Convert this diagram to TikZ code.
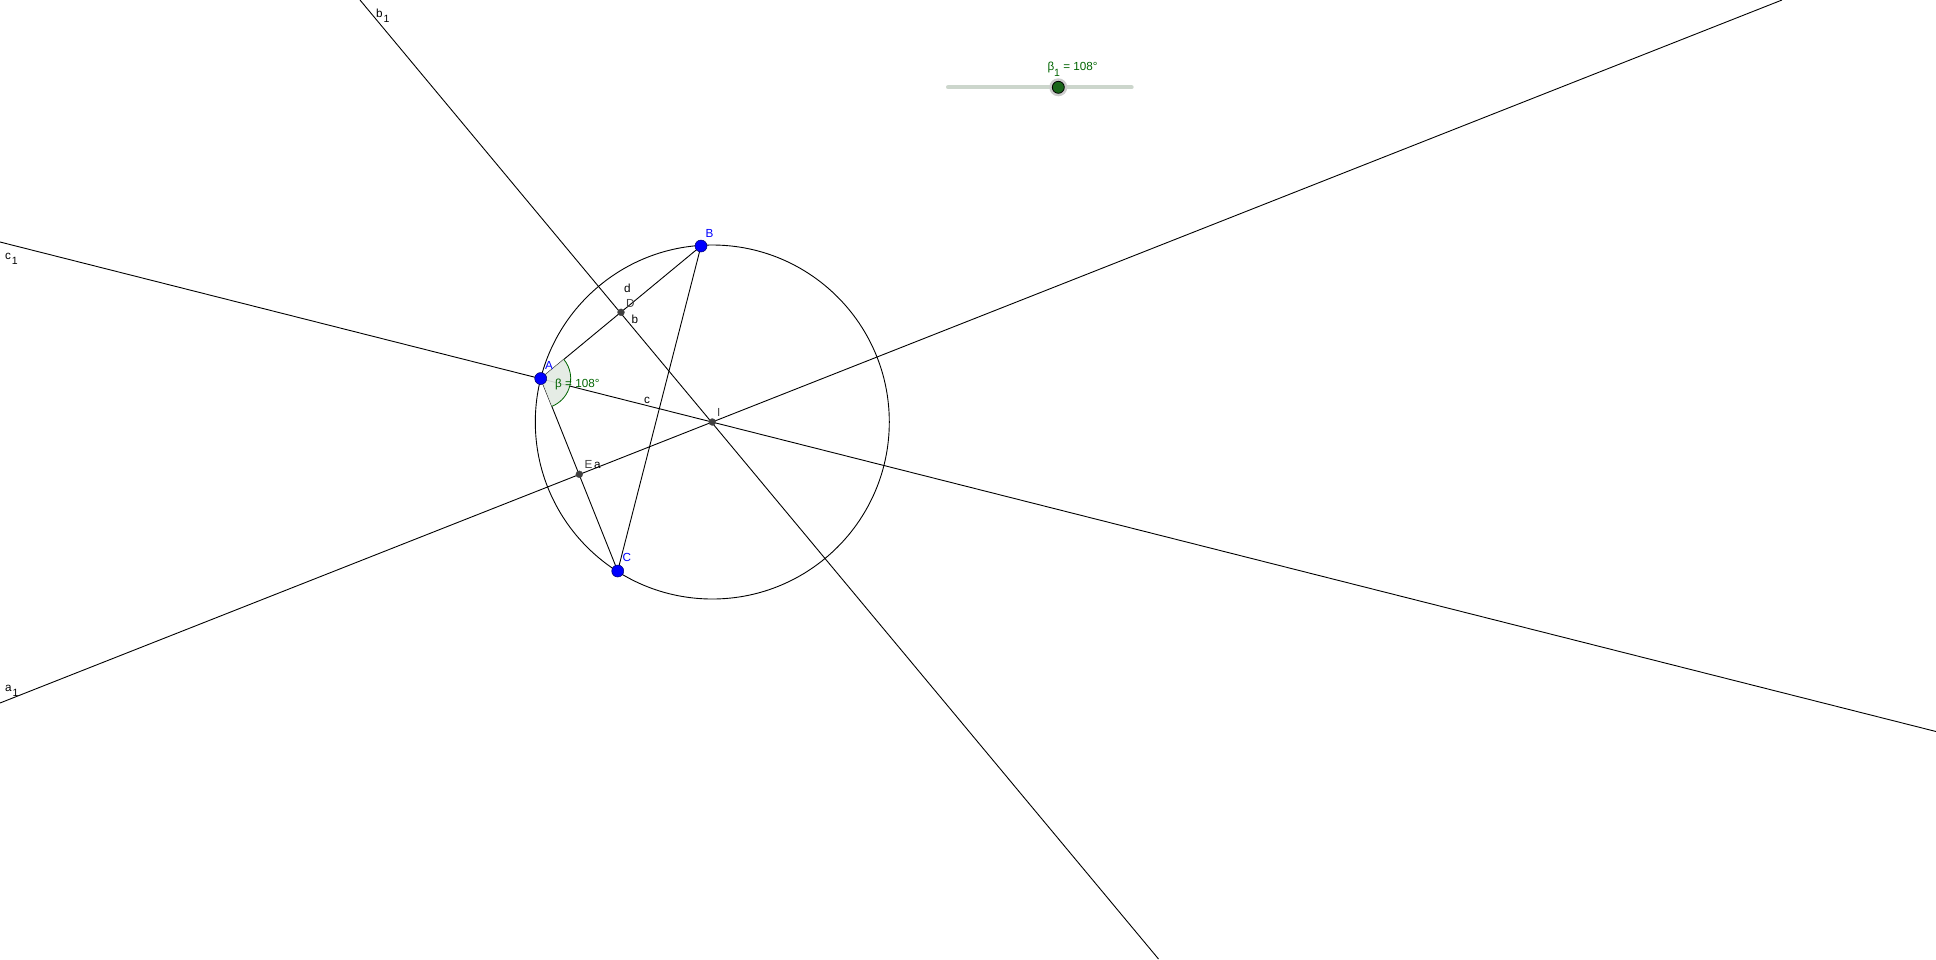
\documentclass[tikz,border=0pt]{standalone}
\usepackage{fontspec}
\usetikzlibrary{calc}
\setmainfont{Liberation Sans}
\definecolor{ptblue}{RGB}{0,0,255}
\definecolor{ggreen}{RGB}{0,100,0}
\definecolor{anglefill}{RGB}{226,234,226}
\definecolor{trackcol}{RGB}{204,214,204}
\definecolor{knobcol}{RGB}{26,102,26}
\definecolor{dotcol}{RGB}{64,64,64}
\begin{document}
\begin{tikzpicture}[x=1pt,y=-1pt,
  geoline/.style={line width=0.9pt, black},
  freept/.style={circle, fill=ptblue, draw=blue!40!black, line width=0.5pt, minimum size=12pt, inner sep=0pt},
  deppt/.style={circle, fill=dotcol, draw=black!70, line width=0.3pt, minimum size=7pt, inner sep=0pt},
  lbl/.style={anchor=base west, inner sep=0pt, font=\fontsize{11.7}{14}\selectfont},
  bluelbl/.style={lbl, text=ptblue},
  greenlbl/.style={lbl, text=ggreen}]
\useasboundingbox (0,0) rectangle (1936,959);
\clip (0,0) rectangle (1936,959);
% points
\coordinate (Ac) at (540.7,378.5);
\coordinate (Bc) at (701,246);
\coordinate (Cc) at (617.7,571);
\coordinate (Dc) at (621,312.3);
\coordinate (Ec) at (579.3,474.3);
\coordinate (Ic) at (712.3,422);
% line ends
\coordinate (b1s) at (360,0);
\coordinate (b1e) at (1158.5,959);
\coordinate (c1s) at (0,242);
\coordinate (c1e) at (1936,731.5);
\coordinate (a1s) at (0,703);
\coordinate (a1e) at (1782,0);
% circle
\draw[geoline] (Ic) circle[radius=177];
% lines
\draw[geoline] (b1s) -- (b1e);
\draw[geoline] (c1s) -- (c1e);
\draw[geoline] (a1s) -- (a1e);
% triangle sides
\draw[geoline] (Ac) -- (Bc);
\draw[geoline] (Bc) -- (Cc);
\draw[geoline] (Cc) -- (Ac);
% angle
\coordinate (angS) at ($(Ac)+(-39.6:30)$);
\fill[anglefill, fill opacity=0.9] (Ac) -- (angS) arc[start angle=-39.6, end angle=68.2, radius=30] -- cycle;
\draw[ggreen, line width=0.8pt] (angS) arc[start angle=-39.6, end angle=68.2, radius=30];
% point nodes
\node[freept] (A) at (Ac) {};
\node[freept] (B) at (Bc) {};
\node[freept] (C) at (Cc) {};
\node[deppt] (D) at (Dc) {};
\node[deppt] (E) at (Ec) {};
\node[deppt] (I) at (Ic) {};
% labels
\node[bluelbl] (lA) at (545,369) {A};
\node[bluelbl] (lB) at (705.5,237.3) {B};
\node[bluelbl] (lC) at (622.5,561) {C};
\node[lbl, text=black!75] (lD) at (626,307.3) {D};
\node[lbl] (ld) at (624,292) {d};
\node[lbl] (lb) at (631.5,323.7) {b};
\node[lbl] (lc) at (644,403.7) {c};
\node[lbl, text=black!75] (lI) at (717,416) {I};
\node[lbl, text=black!75] (lE) at (584.3,468.3) {E};
\node[lbl] (la) at (594,468.3) {a};
\node[greenlbl] (lbeta) at (555,387.5) {β = 108°};
\node[lbl] (lb1) at (376,17.3) {b\kern0.8pt\raisebox{-5pt}{\fontsize{10.5}{10.5}\selectfont 1}};
\node[lbl] (lc1) at (5,259.3) {c\kern0.8pt\raisebox{-5pt}{\fontsize{10.5}{10.5}\selectfont 1}};
\node[lbl] (la1) at (5,691.7) {a\kern0.8pt\raisebox{-5pt}{\fontsize{10.5}{10.5}\selectfont 1}};
% slider
\coordinate (ts) at (948,87.3);
\coordinate (te) at (1131.7,87.3);
\draw[trackcol, line width=4pt, line cap=round] (ts) -- (te);
\fill[black!20] (1058.3,87.3) circle[radius=9];
\node[circle, fill=knobcol, draw=black, line width=0.8pt, minimum size=12pt, inner sep=0pt] (knob) at (1058.3,87.3) {};
\node[greenlbl] (lslider) at (1047.3,70.7) {β\raisebox{-6pt}{\fontsize{10.5}{10.5}\selectfont 1} = 108°};
\end{tikzpicture}
\end{document}
